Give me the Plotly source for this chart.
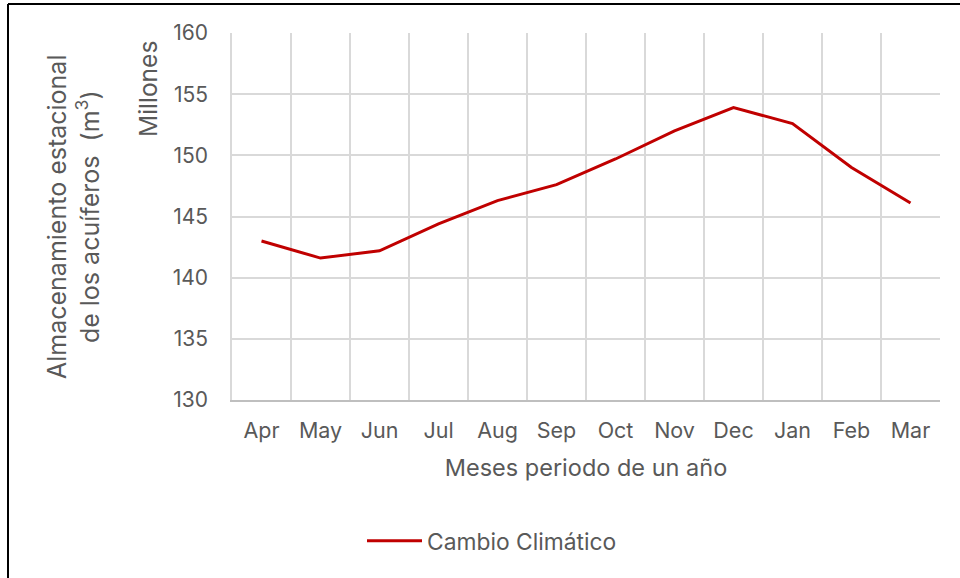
import plotly.graph_objects as go

months = ["Apr", "May", "Jun", "Jul", "Aug", "Sep", "Oct", "Nov", "Dec", "Jan", "Feb", "Mar"]
storage_millions = [143.0, 141.6, 142.2, 144.4, 146.3, 147.6, 149.7, 152.0, 153.9, 152.6, 149.0, 146.1]
series_name = "Cambio Climático"
y_ticks = [130, 135, 140, 145, 150, 155, 160]

FONT = "Inter"
TXT = "#595959"
W, H = 960, 578
L, R, T, B = 232, 20, 33, 178
pw, ph = W - L - R, H - T - B

def px_x(x):
    return (x - L) / pw

def px_y(y):
    return (H - B - y) / ph

fig = go.Figure()
fig.add_trace(go.Scatter(
    x=months, y=storage_millions, mode="lines", name=series_name,
    line=dict(color="#C00000", width=3),
))

fig.update_layout(
    width=W, height=H,
    margin=dict(l=L, r=R, t=T, b=B),
    paper_bgcolor="white", plot_bgcolor="white",
    font=dict(family=FONT, color=TXT, size=21),
    showlegend=True,
    legend=dict(orientation="h", x=px_x(362), xanchor="left", y=px_y(541), yanchor="middle",
                font=dict(size=22.8, color=TXT), itemwidth=55, bgcolor="rgba(0,0,0,0)"),
    xaxis=dict(
        type="category", range=[-0.5, 11.5], tickson="boundaries",
        showgrid=True, gridcolor="#d9d9d9", gridwidth=1.5,
        showline=True, linecolor="#bfbfbf", linewidth=1.5,
        ticks="", tickfont=dict(size=21.5, color=TXT), ticklabelstandoff=10,
        title=dict(text="Meses periodo de un año", font=dict(size=23.5, color=TXT), standoff=18),
        zeroline=False,
    ),
    yaxis=dict(
        range=[130, 160], tickvals=y_ticks,
        showgrid=True, gridcolor="#d9d9d9", gridwidth=1.5,
        showline=True, linecolor="#d9d9d9", linewidth=1.5,
        ticks="", tickfont=dict(size=21, color=TXT), ticklabelstandoff=18,
        zeroline=False,
    ),
    annotations=[
        dict(text="Almacenamiento estacional<br>de los acuíferos  (m<sup>3</sup>)",
             xref="paper", yref="paper", x=px_x(73), y=px_y(217), xanchor="center", yanchor="middle",
             textangle=-90, showarrow=False, font=dict(size=25, color=TXT)),
        dict(text="Millones", xref="paper", yref="paper", x=px_x(148), y=px_y(89),
             xanchor="center", yanchor="middle", textangle=-90, showarrow=False,
             font=dict(size=24.5, color=TXT)),
    ],
    shapes=[
        dict(type="line", xref="paper", yref="paper", x0=px_x(8), x1=px_x(962), y0=px_y(4), y1=px_y(4),
             line=dict(color="black", width=2)),
        dict(type="line", xref="paper", yref="paper", x0=px_x(8), x1=px_x(8), y0=px_y(4), y1=px_y(580),
             line=dict(color="black", width=2)),
    ],
)

fig.write_html("out.html", config={"displayModeBar": False},
               post_script="document.body.style.margin='0';")
